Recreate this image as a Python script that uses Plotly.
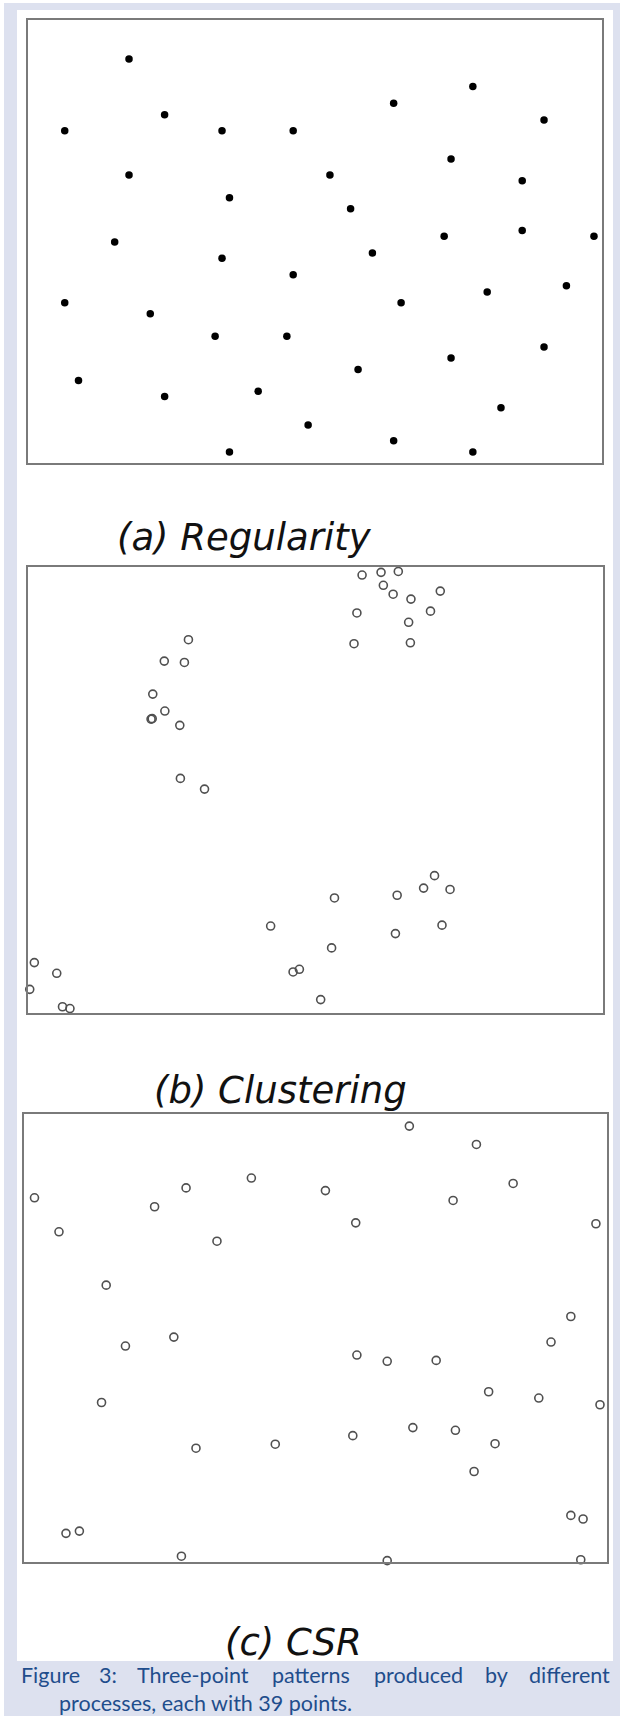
import plotly.graph_objects as go

# Point patterns, coordinates in the unit window (x to the right, y upwards)
reg_x = [0.176, 0.775, 0.637, 0.238, 0.899, 0.064, 0.338, 0.462, 0.737, 0.176,
         0.526, 0.861, 0.351, 0.562, 0.861, 0.725, 0.986, 0.151, 0.600, 0.338,
         0.462, 0.938, 0.800, 0.064, 0.650, 0.213, 0.326, 0.451, 0.899, 0.737,
         0.575, 0.088, 0.238, 0.401, 0.824, 0.488, 0.637, 0.351, 0.775]
reg_y = [0.912, 0.850, 0.812, 0.786, 0.774, 0.750, 0.750, 0.750, 0.686, 0.650,
         0.650, 0.637, 0.599, 0.574, 0.525, 0.512, 0.512, 0.499, 0.474, 0.462,
         0.425, 0.400, 0.386, 0.362, 0.362, 0.337, 0.286, 0.286, 0.262, 0.237,
         0.211, 0.186, 0.150, 0.162, 0.125, 0.086, 0.050, 0.025, 0.025]

clu_x = [0.581, 0.614, 0.644, 0.618, 0.635, 0.666, 0.717, 0.572, 0.700, 0.662,
         0.567, 0.665, 0.279, 0.237, 0.272, 0.217, 0.238, 0.214, 0.216, 0.264,
         0.265, 0.307, 0.707, 0.688, 0.734, 0.642, 0.533, 0.422, 0.720, 0.639,
         0.528, 0.472, 0.461, 0.509, 0.011, 0.050, 0.003, 0.060, 0.073]
clu_y = [0.982, 0.988, 0.990, 0.959, 0.939, 0.928, 0.946, 0.897, 0.901, 0.876,
         0.828, 0.830, 0.837, 0.789, 0.786, 0.715, 0.677, 0.659, 0.660, 0.645,
         0.526, 0.502, 0.308, 0.280, 0.277, 0.264, 0.258, 0.195, 0.197, 0.178,
         0.146, 0.098, 0.092, 0.030, 0.113, 0.089, 0.053, 0.014, 0.010]

csr_x = [0.661, 0.776, 0.390, 0.278, 0.517, 0.839, 0.018, 0.224, 0.736, 0.569,
         0.981, 0.060, 0.331, 0.141, 0.938, 0.904, 0.257, 0.174, 0.571, 0.623,
         0.707, 0.797, 0.883, 0.988, 0.133, 0.667, 0.740, 0.564, 0.808, 0.431,
         0.295, 0.772, 0.938, 0.959, 0.095, 0.072, 0.270, 0.623, 0.955]
csr_y = [0.973, 0.932, 0.857, 0.835, 0.829, 0.845, 0.813, 0.793, 0.807, 0.757,
         0.755, 0.737, 0.716, 0.618, 0.548, 0.491, 0.502, 0.482, 0.462, 0.448,
         0.450, 0.380, 0.366, 0.351, 0.356, 0.300, 0.294, 0.282, 0.264, 0.263,
         0.254, 0.202, 0.104, 0.096, 0.069, 0.064, 0.013, 0.003, 0.005]

panel_titles = ["(a) Regularity", "(b) Clustering", "(c) CSR"]
caption_line1 = ["Figure", "3:", "Three-point", "patterns", "produced", "by", "different"]
caption_line2 = "processes, each with 39 points."

W, H = 620, 1716
BAND = "#dde1ef"
CAPTION_BLUE = "#1f4d8c"
FRAME = "#7a7a7a"
TITLE_FONT = dict(family="DejaVu Sans", size=37, color="#111111", style="italic")
CAPTION_FONT = dict(family="Lato", size=21.5, color=CAPTION_BLUE)


def px(x):
    return x / W


def py(y):
    return 1 - y / H


# panel frames in page pixels: left, right, top, bottom
frames = [(28, 602, 20, 463), (28, 603, 567, 1013), (24, 607, 1114, 1562)]
title_pos = [(244, 537), (280, 1090), (293, 1642)]

fig = go.Figure()

series = [
    (reg_x, reg_y, dict(symbol="circle", size=7.5, color="#000000")),
    (clu_x, clu_y, dict(symbol="circle-open", size=8, color="#505050", line=dict(width=1.6))),
    (csr_x, csr_y, dict(symbol="circle-open", size=8, color="#505050", line=dict(width=1.6))),
]

layout_axes = {}
for i, ((xs, ys, mk), (l, r, t, b)) in enumerate(zip(series, frames), start=1):
    sfx = "" if i == 1 else str(i)
    fig.add_trace(go.Scatter(
        x=xs, y=ys, mode="markers", marker=mk, cliponaxis=False,
        xaxis="x" + sfx, yaxis="y" + sfx, showlegend=False, hoverinfo="skip",
    ))
    ax = dict(range=[0, 1], showgrid=False, zeroline=False, showticklabels=False,
              ticks="", showline=True, mirror=True, linecolor=FRAME, linewidth=2,
              fixedrange=True)
    layout_axes["xaxis" + sfx] = dict(ax, domain=[px(l), px(r)], anchor="y" + sfx)
    layout_axes["yaxis" + sfx] = dict(ax, domain=[py(b), py(t)], anchor="x" + sfx)

shapes = [
    # tinted page band and the white figure area inside it
    dict(type="rect", xref="paper", yref="paper", x0=px(4), x1=1, y0=0, y1=py(3),
         fillcolor=BAND, line=dict(width=0), layer="below"),
    dict(type="rect", xref="paper", yref="paper", x0=px(17), x1=px(613), y0=py(1661), y1=py(10),
         fillcolor="white", line=dict(width=0), layer="below"),
]

annotations = []
for text, (cx, cy) in zip(panel_titles, title_pos):
    annotations.append(dict(
        text=text, x=px(cx), y=py(cy), xref="paper", yref="paper",
        xanchor="center", yanchor="middle", showarrow=False, font=TITLE_FONT,
    ))

# justified first caption line: words spread across the full text width
word_centres = [48, 108, 193, 311, 418, 496, 570]
for k, (word, cx) in enumerate(zip(caption_line1, word_centres)):
    if k == 0:
        anchor, xpos = "left", 19
    elif k == len(caption_line1) - 1:
        anchor, xpos = "right", 612
    else:
        anchor, xpos = "center", cx
    annotations.append(dict(
        text=word, x=px(xpos), y=py(1675), xref="paper", yref="paper",
        xanchor=anchor, yanchor="middle", showarrow=False, font=CAPTION_FONT,
    ))
annotations.append(dict(
    text=caption_line2, x=px(57), y=py(1703), xref="paper", yref="paper",
    xanchor="left", yanchor="middle", showarrow=False, font=CAPTION_FONT,
))

fig.update_layout(
    width=W, height=H, margin=dict(l=0, r=0, t=0, b=0),
    paper_bgcolor="white", plot_bgcolor="white",
    shapes=shapes, annotations=annotations, **layout_axes,
)

fig.write_html("out.html")
